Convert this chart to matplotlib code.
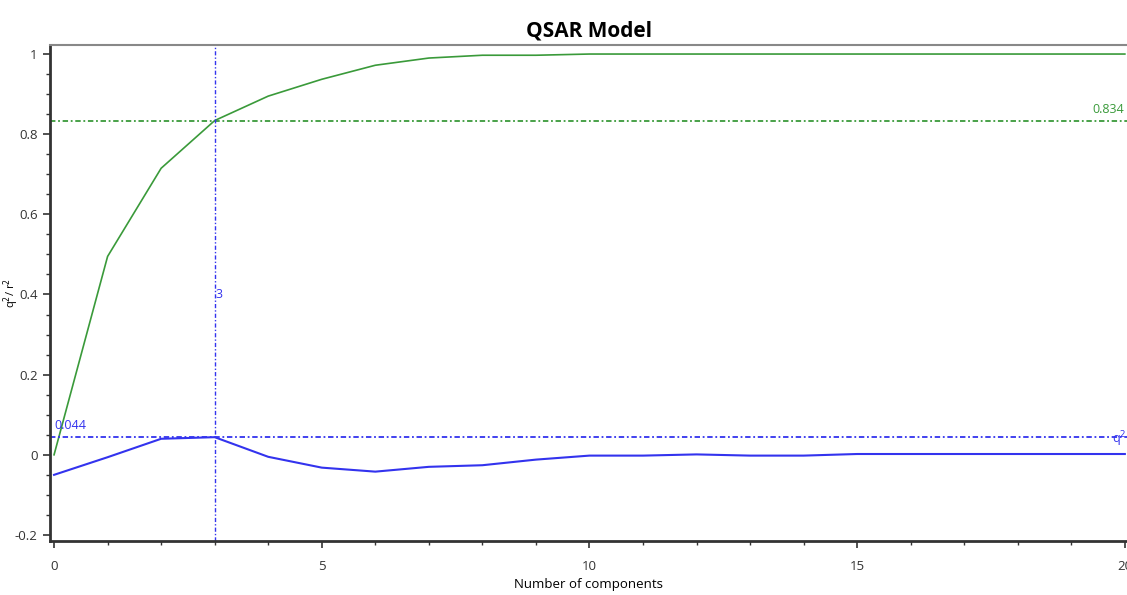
import matplotlib
matplotlib.use("Agg")
import matplotlib.pyplot as plt
from matplotlib.ticker import MultipleLocator

plt.rcParams['font.family'] = ['Open Sans', 'DejaVu Sans']

components = list(range(0, 21))
r2 = [0.0, 0.495, 0.715, 0.834, 0.895, 0.937, 0.972, 0.990, 0.997, 0.997, 1.0,
      1.0, 1.0, 1.0, 1.0, 1.0, 1.0, 1.0, 1.0, 1.0, 1.0]
q2 = [-0.050, -0.006, 0.040, 0.044, -0.005, -0.032, -0.042, -0.030, -0.026, -0.012, -0.002,
      -0.002, 0.001, -0.002, -0.002, 0.002, 0.002, 0.002, 0.002, 0.002, 0.002]
best_n = 3
best_r2 = 0.834
best_q2 = 0.044

green = '#3a9a3a'
blue = '#3333ee'

fig = plt.figure(figsize=(11.27, 5.95), dpi=100)
ax = fig.add_axes([0.0444, 0.0908, 0.9556, 0.8332])

dashdot = (0, (3, 1.5, 1, 1.5))
ax.plot(components, r2, color=green, lw=1.2)
ax.plot(components, q2, color=blue, lw=1.5)
ax.axhline(best_r2, color=green, lw=1.3, ls=dashdot)
ax.axhline(best_q2, color=blue, lw=1.3, ls=dashdot)
ax.axvline(best_n, color=blue, lw=1.0, ls=dashdot)

ax.text(19.98, best_r2 + 0.012, f"{best_r2:.3f}", color=green, ha='right', va='bottom', fontsize=9)
ax.text(0.0, best_q2 + 0.012, f"{best_q2:.3f}", color=blue, ha='left', va='bottom', fontsize=9)
ax.text(best_n + 0.02, 0.40, str(best_n), color=blue, ha='left', va='center', fontsize=9)
ax.text(20.02, best_q2 - 0.004, "q$^2$", color=blue, ha='right', va='center', fontsize=9)

ax.set_xlim(-0.075, 20.04)
ax.set_ylim(-0.215, 1.022)
ax.xaxis.set_minor_locator(MultipleLocator(1))
ax.yaxis.set_minor_locator(MultipleLocator(0.05))
ax.set_yticks([-0.2, 0, 0.2, 0.4, 0.6, 0.8, 1.0])
ax.set_yticklabels(['-0.2', '0', '0.2', '0.4', '0.6', '0.8', '1'])
ax.set_xticks([0, 5, 10, 15, 20])
ax.set_xticklabels(['0', '5', '10', '15', '20'])

ax.tick_params(axis='both', which='major', length=5, width=1.2, colors='#333333', labelsize=9.5)
ax.tick_params(axis='y', which='major', pad=4)
ax.tick_params(axis='x', which='major', pad=9)
ax.tick_params(axis='both', which='minor', length=3, width=1.0, colors='#333333')
for s in ['left', 'bottom']:
    ax.spines[s].set_color('#333333')
    ax.spines[s].set_linewidth(2)
ax.spines['top'].set_color('#888888')
ax.spines['top'].set_linewidth(1.5)
ax.spines['right'].set_visible(False)

ax.set_xlabel("Number of components", fontsize=9.5, labelpad=3)
ax.set_ylabel("q$^2$/ r$^2$", fontsize=8)
ax.yaxis.set_label_coords(-0.027, 0.5)
ax.set_title("QSAR Model", fontsize=15, fontweight='bold', pad=6)

fig.savefig("out.png", dpi=100)
